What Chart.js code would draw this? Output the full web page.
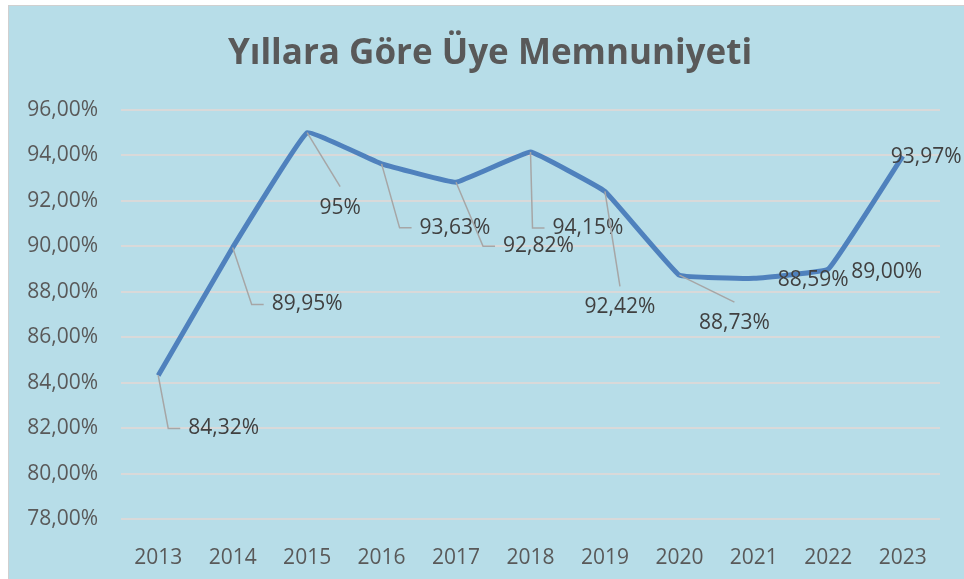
<!DOCTYPE html>
<html>
<head>
<meta charset="utf-8">
<script src="https://cdn.jsdelivr.net/npm/chart.js@4.4.0/dist/chart.umd.min.js"></script>
<style>
  body { margin: 0; background: #fff; }
  #box {
    position: absolute; left: 8px; top: 5px; width: 956px; height: 574px;
    box-sizing: border-box; border-top: 1px solid #d0d0d0; border-left: 1px solid #d0d0d0;
    background: #b7dde8;
  }
</style>
</head>
<body>
<div id="box"><canvas id="chart"></canvas></div>
<script>
// DATA
const years = ['2013', '2014', '2015', '2016', '2017', '2018', '2019', '2020', '2021', '2022', '2023'];
const satisfaction = [84.32, 89.95, 95, 93.63, 92.82, 94.15, 92.42, 88.73, 88.59, 89.00, 93.97];
const valueLabels = ['84,32%', '89,95%', '95%', '93,63%', '92,82%', '94,15%', '92,42%', '88,73%', '88,59%', '89,00%', '93,97%'];
const yTicks = [78, 80, 82, 84, 86, 88, 90, 92, 94, 96];

// label placement relative to each point: [dx, dy, leader style]
const labelLayout = [
  [30, 53, 'side'], [39, 57, 'side'], [33, 75, 'top'], [38, 64, 'side'],
  [47, 64, 'side'], [22, 76, 'side'], [15, 116, 'top'], [55, 48, 'top'],
  [24, 2, 'none'], [23, 3, 'none'], [-12, 1, 'none']
];

// draws data labels with leader lines, Excel style
const leaderLabels = {
  id: 'leaderLabels',
  afterLayout(chart) {
    // title is centred on the whole box, not on the padded area
    if (chart.titleBlock) chart.titleBlock.left += 31;
  },
  afterDatasetsDraw(chart) {
    const ctx = chart.ctx;
    const pts = chart.getDatasetMeta(0).data;
    ctx.save();
    ctx.font = '21px "Open Sans"';
    ctx.textBaseline = 'middle';
    pts.forEach((p, i) => {
      const [dx, dy, mode] = labelLayout[i];
      const tx = p.x + dx, ty = p.y + dy;
      ctx.strokeStyle = '#a6a6a6';
      ctx.lineWidth = 1.5;
      if (mode === 'side') {
        ctx.beginPath();
        ctx.moveTo(p.x, p.y);
        ctx.lineTo(tx - 20, ty);
        ctx.lineTo(tx - 8, ty);
        ctx.stroke();
      } else if (mode === 'top') {
        ctx.beginPath();
        ctx.moveTo(p.x, p.y);
        ctx.lineTo(tx, ty - 21);
        ctx.stroke();
      }
      ctx.fillStyle = '#404040';
      ctx.textAlign = mode === 'top' ? 'center' : 'left';
      ctx.fillText(valueLabels[i], tx, ty);
    });
    ctx.restore();
  }
};

const ctx = document.getElementById('chart').getContext('2d');
new Chart(ctx, {
  type: 'line',
  data: {
    labels: years,
    datasets: [{
      data: satisfaction,
      borderColor: '#4f81bd',
      borderWidth: 5,
      tension: 0.07,
      pointRadius: 0,
      fill: false
    }]
  },
  options: {
    responsive: true,
    maintainAspectRatio: false,
    animation: false,
    layout: { padding: { left: 0, right: 24, top: 0, bottom: 0 } },
    plugins: {
      legend: { display: false },
      tooltip: { enabled: false },
      title: {
        display: true,
        text: 'Yıllara Göre Üye Memnuniyeti',
        color: '#595959',
        font: { family: 'Open Sans', size: 35, weight: 'bold' },
        padding: { top: 27, bottom: 35 }
      }
    },
    scales: {
      x: {
        offset: true,
        grid: { display: false },
        border: { display: false },
        ticks: { color: '#595959', font: { family: 'Open Sans', size: 21 }, padding: 18 },
        afterFit(scale) { scale.height = 60; }
      },
      y: {
        min: 78,
        max: 96,
        afterBuildTicks(scale) { scale.ticks = yTicks.map(v => ({ value: v })); },
        grid: { color: '#d9d9d9', lineWidth: 2, drawTicks: false },
        border: { display: false },
        ticks: {
          color: '#595959',
          font: { family: 'Open Sans', size: 21 },
          padding: 23,
          callback: v => v.toFixed(2).replace('.', ',') + '%'
        },
        afterFit(scale) { scale.width = 112; }
      }
    }
  },
  plugins: [leaderLabels]
});
</script>
</body>
</html>
